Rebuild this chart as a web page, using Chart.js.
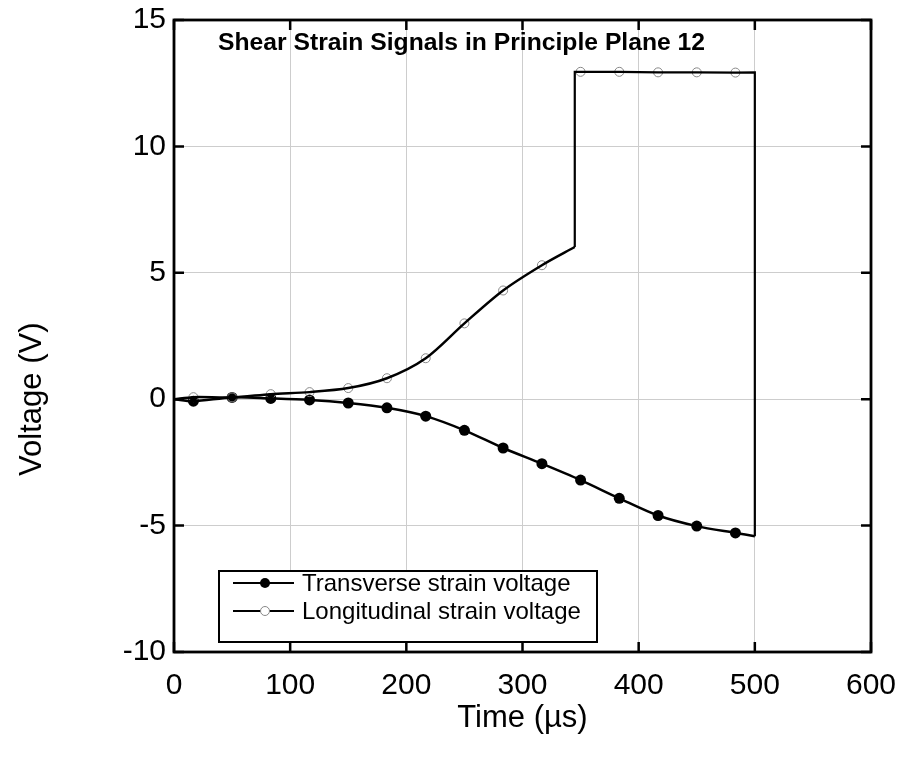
<!DOCTYPE html>
<html>
<head>
<meta charset="utf-8">
<title>Shear Strain Signals</title>
<script src="https://cdn.jsdelivr.net/npm/chart.js@4.4.0/dist/chart.umd.min.js"></script>
<style>
    html, body { margin: 0; padding: 0; background: #fff; }
    #wrap { width: 900px; height: 762px; }
</style>
</head>
<body>
<div id="wrap"><canvas id="strainChart"></canvas></div>
<script>

// Marker sample times (us)
const markerTimes = [16.7, 50, 83.3, 116.7, 150, 183.3, 216.7, 250, 283.3, 316.7, 350, 383.3, 416.7, 450, 483.3];
// Transverse strain voltage at each marker (V)
const transverseVolts = [-0.08, 0.07, 0.03, -0.03, -0.15, -0.34, -0.67, -1.23, -1.93, -2.55, -3.2, -3.92, -4.6, -5.02, -5.29];
// Longitudinal strain voltage at each marker (V)
const longitudinalVolts = [0.08, 0.07, 0.2, 0.28, 0.44, 0.83, 1.62, 3.0, 4.3, 5.3, 12.95, 12.95, 12.93, 12.93, 12.92];

// Trace ends: record start, longitudinal step (low -> high), record end (high -> low)
const startTime = 0;
const startVolts = 0;
const stepTime = 345;
const stepVolts = [6.02, 12.95];
const endTime = 500;
const endVolts = [12.93, -5.42];

// Axes
const timeTicks = [0, 100, 200, 300, 400, 500, 600];
const voltTicks = [-10, -5, 0, 5, 10, 15];

const FONT = "'Liberation Sans', Arial, sans-serif";

// Build point lists
const pts = (xs, ys) => xs.map((x, i) => ({x: x, y: ys[i]}));
const transverseMarks = pts(markerTimes, transverseVolts);
const longitudinalMarks = pts(markerTimes, longitudinalVolts);

const transverseLine = [{x: startTime, y: startVolts}]
    .concat(transverseMarks)
    .concat([{x: endTime, y: endVolts[1]}]);
const longitudinalRise = [{x: startTime, y: startVolts}]
    .concat(longitudinalMarks.filter(p => p.x < stepTime))
    .concat([{x: stepTime, y: stepVolts[0]}]);
const longitudinalTop = [{x: stepTime, y: stepVolts[0]}, {x: stepTime, y: stepVolts[1]}]
    .concat(longitudinalMarks.filter(p => p.x > stepTime))
    .concat([{x: endTime, y: endVolts[0]}, {x: endTime, y: endVolts[1]}]);

// Frame, inward ticks, y title, inner title and boxed legend
const plotDecor = {
    id: 'plotDecor',
    afterDatasetsDraw(chart) {
        const ctx = chart.ctx;
        const a = chart.chartArea;
        const xs = chart.scales.x;
        const ys = chart.scales.y;
        const tick = 10;

        ctx.save();
        ctx.strokeStyle = '#000';
        ctx.lineWidth = 2.5;
        ctx.beginPath();
        timeTicks.forEach(t => {
            const px = xs.getPixelForValue(t);
            ctx.moveTo(px, a.bottom); ctx.lineTo(px, a.bottom - tick);
            ctx.moveTo(px, a.top); ctx.lineTo(px, a.top + tick);
        });
        voltTicks.forEach(v => {
            const py = ys.getPixelForValue(v);
            ctx.moveTo(a.left, py); ctx.lineTo(a.left + tick, py);
            ctx.moveTo(a.right, py); ctx.lineTo(a.right - tick, py);
        });
        ctx.stroke();
        ctx.lineWidth = 2.8;
        ctx.strokeRect(a.left, a.top, a.right - a.left, a.bottom - a.top);

        // Y axis title, sits level with the zero line
        ctx.save();
        ctx.translate(32, ys.getPixelForValue(0));
        ctx.rotate(-Math.PI / 2);
        ctx.fillStyle = '#000';
        ctx.font = '31px ' + FONT;
        ctx.textAlign = 'center';
        ctx.textBaseline = 'middle';
        ctx.fillText('Voltage (V)', 0, 0);
        ctx.restore();

        // Title inside the plot
        ctx.fillStyle = '#000';
        ctx.font = 'bold 24.7px ' + FONT;
        ctx.textBaseline = 'alphabetic';
        ctx.fillText('Shear Strain Signals in Principle Plane 12', a.left + 44, a.top + 30);

        // Legend
        const box = {left: a.left + 45, top: a.bottom - 81, right: a.left + 423, bottom: a.bottom - 10};
        ctx.fillStyle = '#fff';
        ctx.fillRect(box.left, box.top, box.right - box.left, box.bottom - box.top);
        ctx.lineWidth = 2;
        ctx.strokeStyle = '#000';
        ctx.strokeRect(box.left, box.top, box.right - box.left, box.bottom - box.top);

        const rows = [
            {label: 'Transverse strain voltage', y: box.top + 12, filled: true},
            {label: 'Longitudinal strain voltage', y: box.top + 40, filled: false}
        ];
        rows.forEach(r => {
            ctx.strokeStyle = '#000';
            ctx.lineWidth = 2;
            ctx.beginPath();
            ctx.moveTo(box.left + 14, r.y);
            ctx.lineTo(box.left + 75, r.y);
            ctx.stroke();
            ctx.beginPath();
            if (r.filled) {
                ctx.arc(box.left + 46, r.y, 5, 0, Math.PI * 2);
                ctx.fillStyle = '#000';
                ctx.fill();
            } else {
                ctx.arc(box.left + 46, r.y, 4.5, 0, Math.PI * 2);
                ctx.fillStyle = '#fff';
                ctx.fill();
                ctx.lineWidth = 1;
                ctx.strokeStyle = '#888';
                ctx.stroke();
            }
            ctx.fillStyle = '#000';
            ctx.font = '24px ' + FONT;
            ctx.textBaseline = 'middle';
            ctx.fillText(r.label, box.left + 83, r.y + 1);
        });
        ctx.restore();
    }
};

const ctx = document.getElementById('strainChart').getContext('2d');
const strainChart = new Chart(ctx, {
    type: 'line',
    data: {
        datasets: [
            {
                label: 'Longitudinal rise',
                data: longitudinalRise,
                borderColor: '#000',
                borderWidth: 2.5,
                pointRadius: 0,
                tension: 0.3
            },
            {
                label: 'Longitudinal top',
                data: longitudinalTop,
                borderColor: '#000',
                borderWidth: 2.2,
                pointRadius: 0,
                tension: 0
            },
            {
                label: 'Transverse strain voltage',
                data: transverseLine,
                borderColor: '#000',
                borderWidth: 2.5,
                pointRadius: 0,
                tension: 0.3
            },
            {
                label: 'Longitudinal strain voltage',
                data: longitudinalMarks,
                showLine: false,
                pointRadius: 4.5,
                pointBorderWidth: 1,
                pointBorderColor: '#888',
                pointBackgroundColor: 'rgba(0,0,0,0)'
            },
            {
                label: 'Transverse markers',
                data: transverseMarks,
                showLine: false,
                pointRadius: 5.5,
                pointBorderWidth: 0,
                pointBackgroundColor: '#000'
            }
        ]
    },
    options: {
        responsive: true,
        maintainAspectRatio: false,
        animation: false,
        layout: {
            padding: {top: 20, right: 29, left: 0, bottom: 0}
        },
        plugins: {
            legend: {display: false},
            tooltip: {enabled: false}
        },
        scales: {
            x: {
                type: 'linear',
                min: 0,
                max: 600,
                afterBuildTicks: function(scale) {
                    scale.ticks = timeTicks.map(v => ({value: v}));
                },
                afterFit: function(scale) {
                    scale.height = 110;
                    scale.paddingLeft = 0;
                    scale.paddingRight = 0;
                },
                grid: {
                    color: '#cdcdcd',
                    lineWidth: 1,
                    drawTicks: false
                },
                border: {display: false},
                ticks: {
                    color: '#000',
                    padding: 16,
                    maxRotation: 0,
                    font: {family: FONT, size: 30}
                },
                title: {
                    display: true,
                    text: 'Time (\u00b5s)',
                    color: '#000',
                    padding: {top: 25, bottom: 25},
                    font: {family: FONT, size: 31}
                }
            },
            y: {
                min: -10,
                max: 15,
                afterBuildTicks: function(scale) {
                    scale.ticks = voltTicks.map(v => ({value: v}));
                },
                afterFit: function(scale) {
                    scale.width = 174;
                    scale.paddingTop = 0;
                    scale.paddingBottom = 0;
                },
                grid: {
                    color: '#cdcdcd',
                    lineWidth: 1,
                    drawTicks: false
                },
                border: {display: false},
                ticks: {
                    color: '#000',
                    padding: 8,
                    font: {family: FONT, size: 30}
                }
            }
        }
    },
    plugins: [plotDecor]
});
</script>
</body>
</html>
